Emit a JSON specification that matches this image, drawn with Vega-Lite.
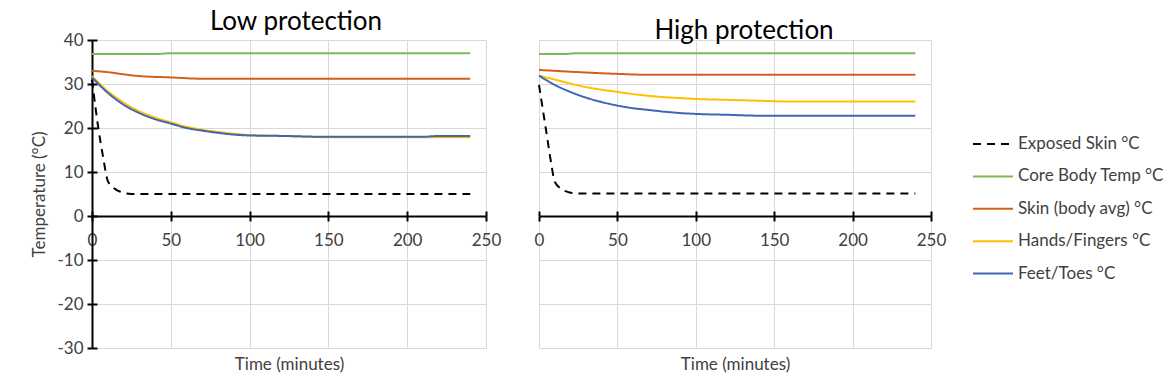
{
  "$schema": "https://vega.github.io/schema/vega-lite/v6.json",
  "padding": {"left": 30, "top": 9, "right": 5, "bottom": 5},
  "background": "white",
  "bounds": "flush",
  "spacing": 53,
  "config": {
    "font": "Lato",
    "view": {"stroke": null},
    "axis": {
      "labelFont": "Lato", "labelFontSize": 17, "labelColor": "#404040",
      "titleFont": "Lato", "titleFontSize": 17, "titleFontWeight": "normal", "titleColor": "#404040",
      "gridColor": "#D9D9D9", "gridWidth": 1, "labelFlush": false, "labelOverlap": false
    },
    "title": {"font": "Lato", "fontSize": 26, "fontWeight": "normal", "color": "#000000", "offset": -4}
  },
  "datasets": {
    "low": [
      {"s": "Exposed Skin  °C", "t": 0, "v": 31}, {"s": "Exposed Skin  °C", "t": 4, "v": 20}, {"s": "Exposed Skin  °C", "t": 7, "v": 13.5}, {"s": "Exposed Skin  °C", "t": 10, "v": 8}, {"s": "Exposed Skin  °C", "t": 14, "v": 6.3}, {"s": "Exposed Skin  °C", "t": 18, "v": 5.5}, {"s": "Exposed Skin  °C", "t": 25, "v": 5.0}, {"s": "Exposed Skin  °C", "t": 40, "v": 5.0}, {"s": "Exposed Skin  °C", "t": 240, "v": 5.0},
      {"s": "Core Body Temp °C", "t": 0, "v": 36.8}, {"s": "Core Body Temp °C", "t": 40, "v": 36.8}, {"s": "Core Body Temp °C", "t": 50, "v": 37.0}, {"s": "Core Body Temp °C", "t": 240, "v": 37.0},
      {"s": "Skin (body avg) °C", "t": 0, "v": 33.0}, {"s": "Skin (body avg) °C", "t": 10, "v": 32.7}, {"s": "Skin (body avg) °C", "t": 20, "v": 32.2}, {"s": "Skin (body avg) °C", "t": 30, "v": 31.8}, {"s": "Skin (body avg) °C", "t": 50, "v": 31.5}, {"s": "Skin (body avg) °C", "t": 70, "v": 31.2}, {"s": "Skin (body avg) °C", "t": 240, "v": 31.2},
      {"s": "Hands/Fingers °C", "t": 0, "v": 31.8}, {"s": "Hands/Fingers °C", "t": 10, "v": 28.4}, {"s": "Hands/Fingers °C", "t": 20, "v": 25.8}, {"s": "Hands/Fingers °C", "t": 30, "v": 23.8}, {"s": "Hands/Fingers °C", "t": 40, "v": 22.4}, {"s": "Hands/Fingers °C", "t": 50, "v": 21.3}, {"s": "Hands/Fingers °C", "t": 60, "v": 20.3}, {"s": "Hands/Fingers °C", "t": 70, "v": 19.6}, {"s": "Hands/Fingers °C", "t": 80, "v": 19.1}, {"s": "Hands/Fingers °C", "t": 90, "v": 18.7}, {"s": "Hands/Fingers °C", "t": 100, "v": 18.4}, {"s": "Hands/Fingers °C", "t": 120, "v": 18.2}, {"s": "Hands/Fingers °C", "t": 150, "v": 17.9}, {"s": "Hands/Fingers °C", "t": 240, "v": 17.9},
      {"s": "Feet/Toes °C", "t": 0, "v": 31.5}, {"s": "Feet/Toes °C", "t": 10, "v": 28.0}, {"s": "Feet/Toes °C", "t": 20, "v": 25.3}, {"s": "Feet/Toes °C", "t": 30, "v": 23.4}, {"s": "Feet/Toes °C", "t": 40, "v": 22.0}, {"s": "Feet/Toes °C", "t": 50, "v": 21.0}, {"s": "Feet/Toes °C", "t": 60, "v": 20.0}, {"s": "Feet/Toes °C", "t": 70, "v": 19.4}, {"s": "Feet/Toes °C", "t": 80, "v": 18.9}, {"s": "Feet/Toes °C", "t": 90, "v": 18.5}, {"s": "Feet/Toes °C", "t": 100, "v": 18.3}, {"s": "Feet/Toes °C", "t": 120, "v": 18.2}, {"s": "Feet/Toes °C", "t": 150, "v": 18.0}, {"s": "Feet/Toes °C", "t": 210, "v": 18.0}, {"s": "Feet/Toes °C", "t": 220, "v": 18.2}, {"s": "Feet/Toes °C", "t": 240, "v": 18.2}
    ],
    "high": [
      {"s": "Exposed Skin  °C", "t": 0, "v": 29.8}, {"s": "Exposed Skin  °C", "t": 4.5, "v": 19.5}, {"s": "Exposed Skin  °C", "t": 8, "v": 11.5}, {"s": "Exposed Skin  °C", "t": 10, "v": 7.8}, {"s": "Exposed Skin  °C", "t": 14, "v": 6.2}, {"s": "Exposed Skin  °C", "t": 19, "v": 5.4}, {"s": "Exposed Skin  °C", "t": 25, "v": 5.1}, {"s": "Exposed Skin  °C", "t": 40, "v": 5.1}, {"s": "Exposed Skin  °C", "t": 240, "v": 5.1},
      {"s": "Core Body Temp °C", "t": 0, "v": 36.8}, {"s": "Core Body Temp °C", "t": 15, "v": 36.8}, {"s": "Core Body Temp °C", "t": 25, "v": 37.0}, {"s": "Core Body Temp °C", "t": 240, "v": 37.0},
      {"s": "Skin (body avg) °C", "t": 0, "v": 33.2}, {"s": "Skin (body avg) °C", "t": 25, "v": 32.7}, {"s": "Skin (body avg) °C", "t": 50, "v": 32.3}, {"s": "Skin (body avg) °C", "t": 70, "v": 32.1}, {"s": "Skin (body avg) °C", "t": 240, "v": 32.1},
      {"s": "Hands/Fingers °C", "t": 0, "v": 31.9}, {"s": "Hands/Fingers °C", "t": 10, "v": 31.0}, {"s": "Hands/Fingers °C", "t": 20, "v": 30.1}, {"s": "Hands/Fingers °C", "t": 30, "v": 29.3}, {"s": "Hands/Fingers °C", "t": 40, "v": 28.7}, {"s": "Hands/Fingers °C", "t": 50, "v": 28.2}, {"s": "Hands/Fingers °C", "t": 60, "v": 27.7}, {"s": "Hands/Fingers °C", "t": 70, "v": 27.3}, {"s": "Hands/Fingers °C", "t": 80, "v": 27.0}, {"s": "Hands/Fingers °C", "t": 90, "v": 26.8}, {"s": "Hands/Fingers °C", "t": 100, "v": 26.6}, {"s": "Hands/Fingers °C", "t": 120, "v": 26.4}, {"s": "Hands/Fingers °C", "t": 140, "v": 26.2}, {"s": "Hands/Fingers °C", "t": 160, "v": 26.0}, {"s": "Hands/Fingers °C", "t": 240, "v": 26.0},
      {"s": "Feet/Toes °C", "t": 0, "v": 31.9}, {"s": "Feet/Toes °C", "t": 10, "v": 29.8}, {"s": "Feet/Toes °C", "t": 20, "v": 28.2}, {"s": "Feet/Toes °C", "t": 30, "v": 26.9}, {"s": "Feet/Toes °C", "t": 40, "v": 25.9}, {"s": "Feet/Toes °C", "t": 50, "v": 25.1}, {"s": "Feet/Toes °C", "t": 60, "v": 24.5}, {"s": "Feet/Toes °C", "t": 70, "v": 24.1}, {"s": "Feet/Toes °C", "t": 80, "v": 23.7}, {"s": "Feet/Toes °C", "t": 90, "v": 23.4}, {"s": "Feet/Toes °C", "t": 100, "v": 23.2}, {"s": "Feet/Toes °C", "t": 120, "v": 23.0}, {"s": "Feet/Toes °C", "t": 140, "v": 22.8}, {"s": "Feet/Toes °C", "t": 240, "v": 22.8}
    ]
  },
  "hconcat": [
    {
      "title": {"text": "Low protection", "dx": 7},
      "width": 394, "height": 308,
      "data": {"name": "low"},
      "layer": [
        {
          "mark": {"type": "line", "strokeWidth": 2, "interpolate": "monotone"},
          "encoding": {
            "x": {"field": "t", "type": "quantitative", "scale": {"domain": [0, 250], "nice": false},
              "axis": {"orient": "bottom", "values": [0, 50, 100, 150, 200, 250], "offset": -132, "domainColor": "#000000", "domainWidth": 2, "tickColor": "#000000", "tickWidth": 2, "tickSize": 5, "labelPadding": 11, "title": "Time (minutes)", "titleY": 140, "grid": true}},
            "y": {"field": "v", "type": "quantitative", "scale": {"domain": [-30, 40], "nice": false},
              "axis": {"orient": "left", "values": [-30, -20, -10, 0, 10, 20, 30, 40], "labelExpr": "datum.value < 0 ? '-' + abs(datum.value) : '' + datum.value", "domainColor": "#000000", "domainWidth": 2, "tickColor": "#000000", "tickWidth": 2, "tickSize": 5, "labelPadding": 4, "title": "Temperature (°C)", "titlePadding": 8, "grid": true}},
            "color": {"field": "s", "type": "nominal",
              "scale": {"domain": ["Exposed Skin  °C", "Core Body Temp °C", "Skin (body avg) °C", "Hands/Fingers °C", "Feet/Toes °C"], "range": ["#000000", "#7CBA58", "#D0601A", "#FFC000", "#3F66B5"]},
              "legend": {"orient": "none", "legendX": 890, "legendY": 93, "title": null, "symbolType": "M-2,0H2", "symbolSize": 400, "symbolStrokeWidth": 2, "labelFont": "Lato", "labelFontSize": 17, "labelColor": "#404040", "rowPadding": 13.4, "labelOffset": 14}},
            "strokeDash": {"field": "s", "type": "nominal",
              "scale": {"domain": ["Exposed Skin  °C", "Core Body Temp °C", "Skin (body avg) °C", "Hands/Fingers °C", "Feet/Toes °C"], "range": [[8, 6], [1, 0], [1, 0], [1, 0], [1, 0]]},
              "legend": {"orient": "none", "legendX": 890, "legendY": 93, "title": null, "symbolType": "M-2,0H2", "symbolSize": 400, "symbolStrokeWidth": 2, "labelFont": "Lato", "labelFontSize": 17, "labelColor": "#404040", "rowPadding": 13.4, "labelOffset": 14}}
          }
        },
        {
          "mark": {"type": "line", "strokeOpacity": 0},
          "encoding": {
            "x": {"field": "t", "type": "quantitative", "axis": {"orient": "bottom", "values": [0, 50, 100, 150, 200, 250], "offset": -132, "domain": false, "labels": false, "grid": false, "title": null, "tickColor": "#000000", "tickWidth": 2, "tickSize": -5}},
            "y": {"field": "v", "type": "quantitative", "axis": {"orient": "left", "values": [-30, -20, -10, 0, 10, 20, 30, 40], "domain": false, "labels": false, "grid": false, "title": null, "tickColor": "#000000", "tickWidth": 2, "tickSize": -5}},
            "detail": {"field": "s"}
          }
        }
      ],
      "resolve": {"axis": {"x": "independent", "y": "independent"}}
    },
    {
      "title": {"text": "High protection", "dx": 9},
      "width": 392, "height": 308,
      "data": {"name": "high"},
      "layer": [
        {
          "mark": {"type": "line", "strokeWidth": 2, "interpolate": "monotone"},
          "encoding": {
            "x": {"field": "t", "type": "quantitative", "scale": {"domain": [0, 250], "nice": false},
              "axis": {"orient": "bottom", "values": [0, 50, 100, 150, 200, 250], "offset": -132, "domainColor": "#000000", "domainWidth": 2, "tickColor": "#000000", "tickWidth": 2, "tickSize": 5, "labelPadding": 11, "title": "Time (minutes)", "titleY": 140, "grid": true}},
            "y": {"field": "v", "type": "quantitative", "scale": {"domain": [-30, 40], "nice": false},
              "axis": {"orient": "left", "values": [-30, -20, -10, 0, 10, 20, 30, 40], "domain": false, "ticks": false, "labels": false, "title": null, "grid": true}},
            "color": {"field": "s", "type": "nominal",
              "scale": {"domain": ["Exposed Skin  °C", "Core Body Temp °C", "Skin (body avg) °C", "Hands/Fingers °C", "Feet/Toes °C"], "range": ["#000000", "#7CBA58", "#D0601A", "#FFC000", "#3F66B5"]},
              "legend": {"orient": "none", "legendX": 890, "legendY": 93, "title": null, "symbolType": "M-2,0H2", "symbolSize": 400, "symbolStrokeWidth": 2, "labelFont": "Lato", "labelFontSize": 17, "labelColor": "#404040", "rowPadding": 13.4, "labelOffset": 14}},
            "strokeDash": {"field": "s", "type": "nominal",
              "scale": {"domain": ["Exposed Skin  °C", "Core Body Temp °C", "Skin (body avg) °C", "Hands/Fingers °C", "Feet/Toes °C"], "range": [[8, 6], [1, 0], [1, 0], [1, 0], [1, 0]]},
              "legend": {"orient": "none", "legendX": 890, "legendY": 93, "title": null, "symbolType": "M-2,0H2", "symbolSize": 400, "symbolStrokeWidth": 2, "labelFont": "Lato", "labelFontSize": 17, "labelColor": "#404040", "rowPadding": 13.4, "labelOffset": 14}}
          }
        },
        {
          "mark": {"type": "line", "strokeOpacity": 0},
          "encoding": {
            "x": {"field": "t", "type": "quantitative", "axis": {"orient": "bottom", "values": [0, 50, 100, 150, 200, 250], "offset": -132, "domain": false, "labels": false, "grid": false, "title": null, "tickColor": "#000000", "tickWidth": 2, "tickSize": -5}},
            "y": {"field": "v", "type": "quantitative"},
            "detail": {"field": "s"}
          }
        }
      ],
      "resolve": {"axis": {"x": "independent"}}
    }
  ]
}
